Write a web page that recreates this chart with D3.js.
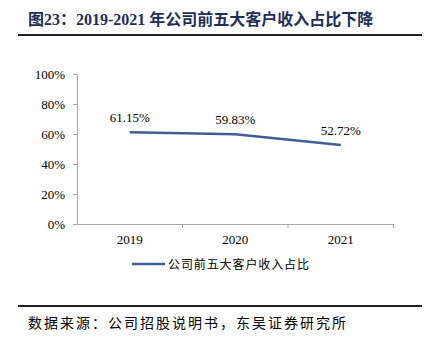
<!DOCTYPE html>
<html>
<head>
<meta charset="utf-8">
<script src="https://cdn.jsdelivr.net/npm/d3@7/dist/d3.min.js"></script>
<style>
  html, body { margin: 0; padding: 0; background: #fff; }
  svg { display: block; }
</style>
</head>
<body>
<script>
// Top-five customer revenue share, 2019-2021
const years = ["2019", "2020", "2021"];
const shareValues = [61.15, 59.83, 52.72];
const yTicks = [0, 20, 40, 60, 80, 100];
const seriesName = "公司前五大客户收入占比";
const titleText = "图23：2019-2021 年公司前五大客户收入占比下降";
const sourceText = "数据来源：公司招股说明书，东吴证券研究所";

(function () {
const W = 428, H = 348;
const serif = "'Liberation Serif', 'Times New Roman', 'Noto Sans CJK SC', serif";
const cjk = "'Noto Sans CJK SC', 'Noto Sans CJK JP', sans-serif";

const svg = d3.select("body").append("svg")
  .attr("width", W).attr("height", H);

// Header
svg.append("text")
  .attr("x", 28).attr("y", 25)
  .attr("font-family", serif)
  .attr("font-weight", "bold")
  .attr("font-size", 16)
  .attr("fill", "#1d2f5a")
  .style("white-space", "pre")
  .text(titleText);
svg.append("line")
  .attr("x1", 18).attr("x2", 422).attr("y1", 35).attr("y2", 35)
  .attr("stroke", "#222").attr("stroke-width", 2);

// Plot area
const plotLeft = 77, plotRight = 393.5, plotTop = 74, plotBottom = 224;

const x = d3.scaleBand().domain(years).range([plotLeft, plotRight]);
const y = d3.scaleLinear().domain([0, 100]).range([plotBottom, plotTop]);

const axisColor = "#a6a6a6";

// Y axis
const yAxis = svg.append("g")
  .attr("transform", `translate(${plotLeft},0)`)
  .call(d3.axisLeft(y).tickValues(yTicks).tickSize(4).tickPadding(8)
    .tickFormat(d => d + "%"));
yAxis.select(".domain").attr("stroke", axisColor);
yAxis.selectAll(".tick line").attr("stroke", axisColor);
yAxis.selectAll("text")
  .attr("font-family", serif).attr("font-size", 13).attr("fill", "#000");

// X axis with boundary ticks between categories
const xAxis = svg.append("g")
  .attr("transform", `translate(0,${plotBottom})`)
  .call(d3.axisBottom(x).tickSize(0).tickPadding(11));
xAxis.select(".domain").attr("stroke", axisColor);
xAxis.selectAll("text")
  .attr("font-family", serif).attr("font-size", 13).attr("fill", "#000");
const bounds = years.map(d => x(d) + x.bandwidth());
xAxis.selectAll(".bound").data(bounds).enter().append("line")
  .attr("class", "bound")
  .attr("x1", d => d).attr("x2", d => d)
  .attr("y1", 0).attr("y2", 4)
  .attr("stroke", axisColor);

// Line series
const pts = years.map((d, i) => ({ year: d, v: shareValues[i] }));
const cx = d => x(d.year) + x.bandwidth() / 2;
const lineColor = "#3d5f94";
svg.append("path")
  .datum(pts)
  .attr("fill", "none")
  .attr("stroke", lineColor)
  .attr("stroke-width", 2.5)
  .attr("d", d3.line().x(cx).y(d => y(d.v)));

// Value labels
svg.selectAll(".vlabel").data(pts).enter().append("text")
  .attr("class", "vlabel")
  .attr("x", cx)
  .attr("y", d => y(d.v) - 10)
  .attr("text-anchor", "middle")
  .attr("font-family", serif).attr("font-size", 13).attr("fill", "#000")
  .text(d => d.v.toFixed(2) + "%");

// Legend
svg.append("line")
  .attr("x1", 132).attr("x2", 165).attr("y1", 264).attr("y2", 264)
  .attr("stroke", lineColor).attr("stroke-width", 2.5);
svg.append("text")
  .attr("x", 168).attr("y", 268.5)
  .attr("font-family", cjk).attr("font-size", 12).attr("fill", "#000")
  .attr("letter-spacing", 0.9)
  .text(seriesName);

// Footer
svg.append("line")
  .attr("x1", 18).attr("x2", 422).attr("y1", 306).attr("y2", 306)
  .attr("stroke", "#222").attr("stroke-width", 2);
svg.append("text")
  .attr("x", 28).attr("y", 327.5)
  .attr("font-family", cjk).attr("font-size", 14).attr("fill", "#000")
  .attr("letter-spacing", 2)
  .text(sourceText);
})();
</script>
</body>
</html>
